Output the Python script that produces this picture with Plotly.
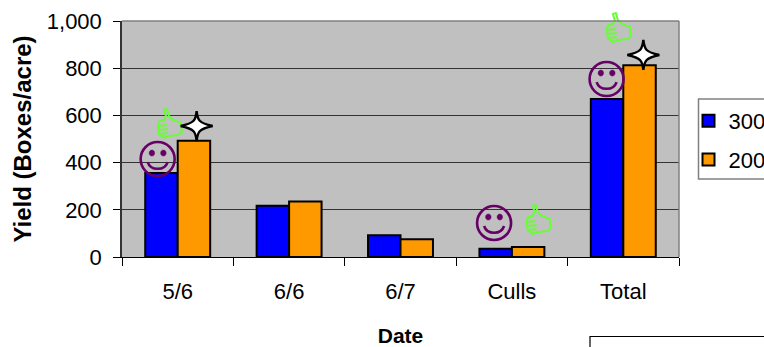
import plotly.graph_objects as go

categories = ["5/6", "6/6", "6/7", "Culls", "Total"]
series_300 = [356, 217, 92, 35, 670]
series_200 = [493, 235, 75, 42, 812]

# icon placements: (category position, yield value)
smileys = [(-0.18, 415), (2.84, 144), (3.85, 754)]
thumbs = [(-0.07, 564), (3.24, 157), (3.96, 970)]
stars = [(0.17, 555), (4.18, 856)]

FONT = "Liberation Sans"
Y_MAX = 1000
L, R, T, B = 122, 679, 21, 257
W, H = 764, 347

# Pixel-sized shape paths have y pointing up
SMILE_RING = ("M17,0 C17,9.4 9.4,17 0,17 C-9.4,17 -17,9.4 -17,0 "
              "C-17,-9.4 -9.4,-17 0,-17 C9.4,-17 17,-9.4 17,0 Z")
SMILE_MOUTH = "M-10,-3 C-7,-12 7,-12 10,-3"
EYE_L = "M-8.5,6 C-8.5,10 -3,10 -3,6 C-3,2 -8.5,2 -8.5,6 Z"
EYE_R = "M3,6 C3,10 8.5,10 8.5,6 C8.5,2 3,2 3,6 Z"
THUMB = ("M-6,14 L-3,15 L-1,8 L3,4 L11,1 L12,-8 L9,-11 L-1,-12 L-6,-14 "
         "L-11,-10 L-12,0 L-10,3 L-6,4 L-4,8 Z "
         "M-12,-2 L-3,-1 M-11,-6 L-2,-5 M-9,-10 L-2,-9")
STAR = ("M0,15 C1,6 2,3 16,0 C2,-3 1,-6 0,-15 "
        "C-1,-6 -2,-3 -16,0 C-2,3 -1,6 0,15 Z")


def glyph(x, y, path, line_color, line_width, fill="rgba(0,0,0,0)"):
    # y is placed as a fraction of the plot height so icons may rise above the plot area
    return dict(type="path", xref="x", yref="paper", xsizemode="pixel", ysizemode="pixel",
                xanchor=x, yanchor=y / Y_MAX, path=path, layer="above",
                line=dict(color=line_color, width=line_width), fillcolor=fill)


def px(x):
    return (x - L) / (R - L)


def py(y):
    return (B - y) / (B - T)


shapes = []
for x, y in smileys:
    for p in (SMILE_RING, SMILE_MOUTH):
        shapes.append(glyph(x, y, p, "#660066", 2.6))
    for p in (EYE_L, EYE_R):
        shapes.append(glyph(x, y, p, "#660066", 0.5, "#660066"))
for x, y in thumbs:
    shapes.append(glyph(x, y, THUMB, "#66FF33", 2))
for x, y in stars:
    shapes.append(glyph(x, y, STAR, "black", 2.4, "white"))

# partly visible text box at the lower right of the page
shapes.append(dict(type="rect", xref="paper", yref="paper",
                   x0=px(590), x1=px(800), y0=py(380), y1=py(336.5),
                   line=dict(color="black", width=1.2), fillcolor="white", layer="above"))
# legend frame
shapes.append(dict(type="rect", xref="paper", yref="paper",
                   x0=px(698.5), x1=px(800), y0=py(179), y1=py(99),
                   line=dict(color="#808080", width=1.5), fillcolor="white", layer="below"))
# gray border on the top and right of the plot area
shapes.append(dict(type="line", xref="paper", yref="paper", x0=0, x1=1, y0=1, y1=1,
                   line=dict(color="#808080", width=1.5)))
shapes.append(dict(type="line", xref="paper", yref="paper", x0=1, x1=1, y0=0, y1=1,
                   line=dict(color="#808080", width=1.5)))

fig = go.Figure()
fig.add_bar(x=categories, y=series_300, name="300", legendgroup="a",
            marker=dict(color="#0000FF", line=dict(color="black", width=2)))
fig.add_bar(x=categories, y=series_200, name="200", legendgroup="b",
            marker=dict(color="#FF9900", line=dict(color="black", width=2)))

fig.update_layout(
    width=W, height=H, barmode="group", bargap=0.417, bargroupgap=0,
    paper_bgcolor="white", plot_bgcolor="#C0C0C0",
    margin=dict(l=L, r=W - R, t=T, b=H - B, pad=0, autoexpand=False),
    font=dict(family=FONT, size=22, color="black"),
    shapes=shapes,
    legend=dict(x=px(688.5), xanchor="left", y=py(100), yanchor="top",
                bgcolor="rgba(0,0,0,0)", borderwidth=0,
                font=dict(family=FONT, size=22), itemsizing="constant", tracegroupgap=7),
    xaxis=dict(type="category", tickson="boundaries", ticks="outside", ticklen=8, tickcolor="black",
               tickwidth=1, showline=True, linecolor="black", linewidth=1, showgrid=False,
               ticklabelstandoff=15, tickfont=dict(family=FONT, size=22),
               title=dict(text="<b>Date</b>", font=dict(family=FONT, size=21), standoff=25)),
    yaxis=dict(range=[0, Y_MAX], tickvals=[0, 200, 400, 600, 800, 1000],
               ticktext=["0", "200", "400", "600", "800", "1,000"],
               ticks="outside", ticklen=7, tickcolor="black", tickwidth=1,
               showline=True, linecolor="#333333", linewidth=1.5, showgrid=True,
               gridcolor="#333333", gridwidth=1, zeroline=False,
               ticklabelstandoff=7, tickfont=dict(family=FONT, size=22),
               title=dict(text="<b>Yield (Boxes/acre)</b>", font=dict(family=FONT, size=24), standoff=8)),
)

fig.write_html("out.html", config=dict(displayModeBar=False),
               post_script="document.body.style.margin='0';document.body.style.overflow='hidden';")
